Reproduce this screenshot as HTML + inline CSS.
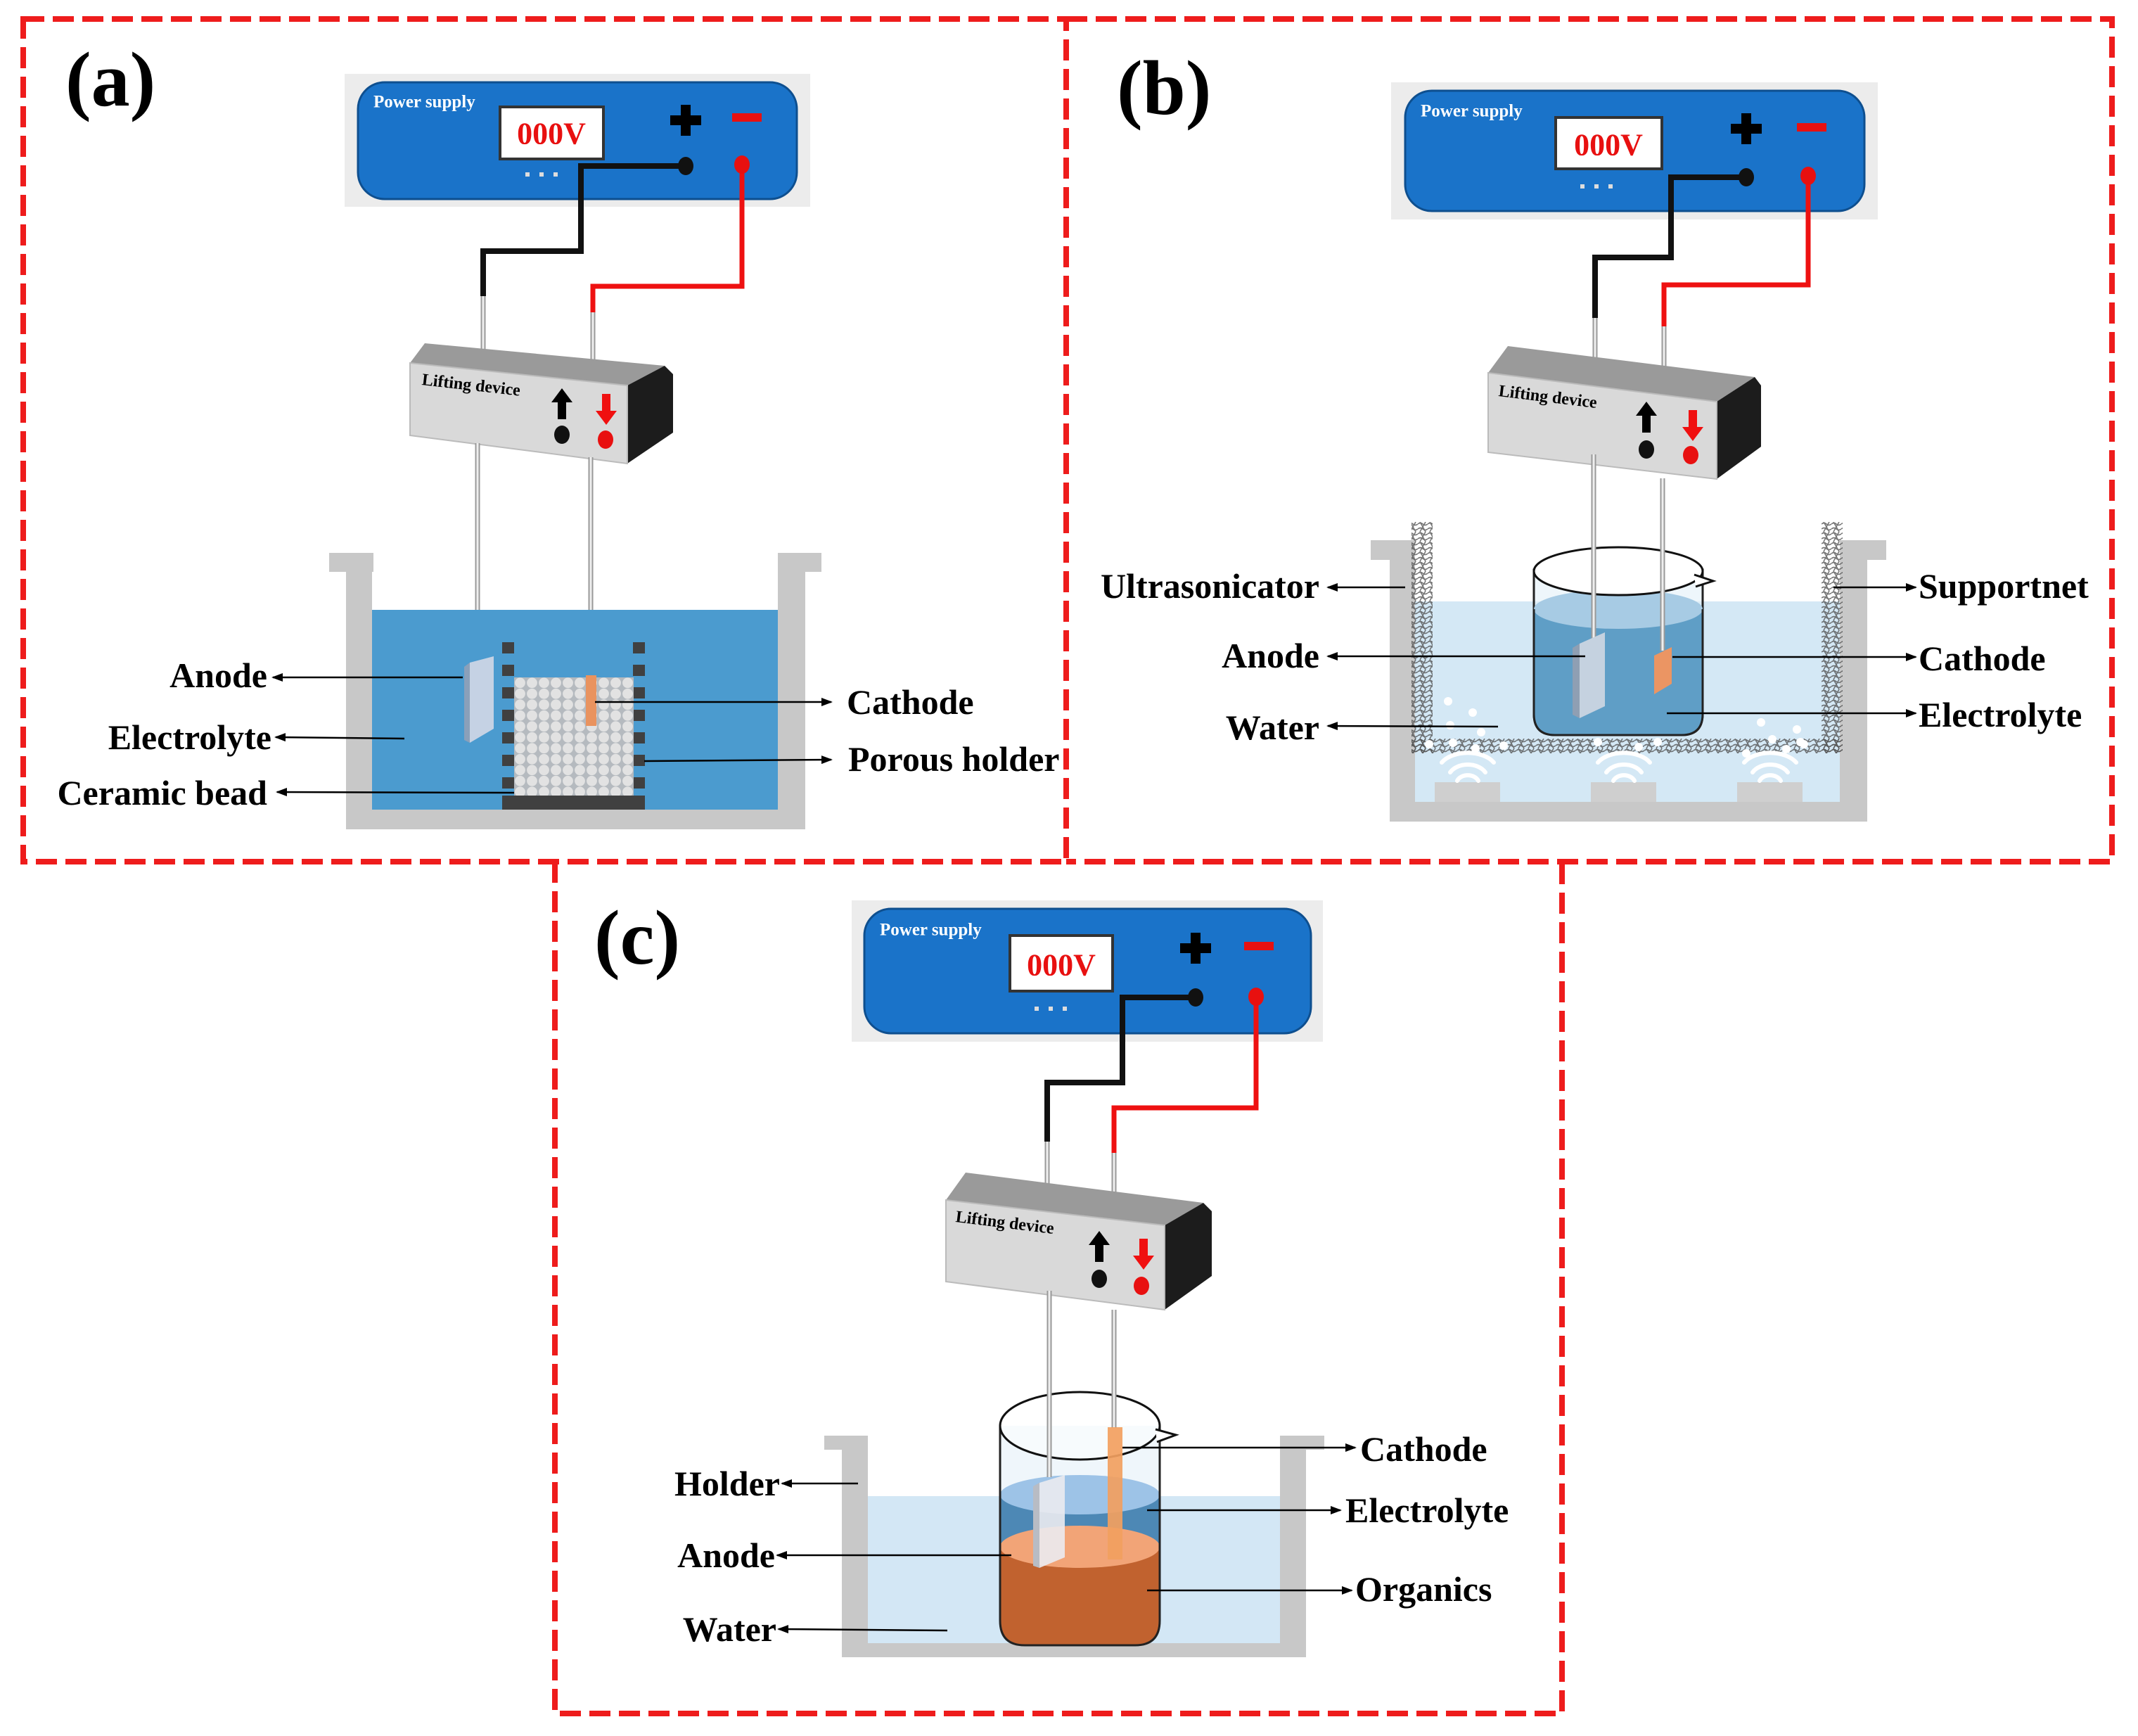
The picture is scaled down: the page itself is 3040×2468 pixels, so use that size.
<!DOCTYPE html>
<html><head><meta charset="utf-8">
<style>
html,body{margin:0;padding:0;background:#fff;}
svg{display:block;}
text{font-family:"Liberation Serif",serif;font-weight:bold;}
</style></head>
<body>
<svg width="3040" height="2468" viewBox="0 0 3040 2468" xmlns="http://www.w3.org/2000/svg">
<defs>
<marker id="ah" markerWidth="16" markerHeight="12" refX="14" refY="6" orient="auto" markerUnits="userSpaceOnUse">
<path d="M0,0 L16,6 L0,12 z" fill="#000"/>
</marker>
<pattern id="beads" x="731" y="963" width="17" height="15.5" patternUnits="userSpaceOnUse">
<rect width="17" height="15.5" fill="#b5babf"/>
<circle cx="8.5" cy="7.75" r="7.4" fill="#e2e2e2"/>
</pattern>
<pattern id="net" width="14" height="14" patternUnits="userSpaceOnUse">
<path d="M0,3 Q3.5,0 7,3 T14,3 M0,10 Q3.5,7 7,10 T14,10 M3,0 L11,14 M11,0 L3,14" fill="none" stroke="#555" stroke-width="1.6" opacity="0.8"/>
</pattern>
<g id="uparr"><polygon points="0,0 15,20 6,20 6,44 -6,44 -6,20 -15,20" fill="#000"/></g>
<g id="dnarr"><polygon points="0,44 15,24 6,24 6,0 -6,0 -6,24 -15,24" fill="#f01010"/></g>
</defs>

<!-- borders -->
<g fill="none" stroke="#ee1c1c" stroke-width="8" stroke-dasharray="30 12">
<path d="M33 27 H1516 V1225 H33 Z"/>
<path d="M1516 27 H3003 V1225 H1516"/>
<path d="M789 1225 V2436 H2221 V1225"/>
</g>

<!-- ============ PANEL A ============ -->
<text x="93" y="150" font-size="110">(a)</text>

<rect x="490" y="105" width="662" height="189" fill="#ececec"/>
<rect x="509" y="117" width="624" height="166" rx="38" fill="#1a73c9" stroke="#0e4f8f" stroke-width="3"/>
<text x="531" y="145" font-size="25" fill="#fff" dominant-baseline="central">Power supply</text>
<rect x="711" y="152" width="147" height="74" fill="#fff" stroke="#333" stroke-width="4"/>
<text x="784" y="190" font-size="44" fill="#e81010" text-anchor="middle" dominant-baseline="central">000V</text>
<rect x="747" y="245" width="6" height="6" fill="#ddd"/><rect x="767" y="245" width="6" height="6" fill="#ddd"/><rect x="787" y="245" width="6" height="6" fill="#ddd"/>
<rect x="953" y="164" width="44" height="14" fill="#000"/><rect x="968" y="149" width="14" height="44" fill="#000"/>
<rect x="1041" y="161" width="42" height="12" fill="#e81010"/>
<path d="M975 236 H826 V357 H687 V421" fill="none" stroke="#111" stroke-width="8"/>
<path d="M1055 234 V407 H843 V444" fill="none" stroke="#ee1111" stroke-width="7"/>
<ellipse cx="975" cy="236" rx="11" ry="13" fill="#111"/>
<ellipse cx="1055" cy="234" rx="11" ry="13" fill="#e81010"/>
<line x1="687" y1="421" x2="687" y2="500" stroke="#999" stroke-width="7"/><line x1="687" y1="421" x2="687" y2="500" stroke="#eee" stroke-width="3"/>
<line x1="843" y1="444" x2="843" y2="525" stroke="#999" stroke-width="7"/><line x1="843" y1="444" x2="843" y2="525" stroke="#eee" stroke-width="3"/>
<polygon points="583,516 604,488 945,520 892,548" fill="#9a9a9a"/>
<polygon points="892,548 945,520 957,532 957,615 892,659" fill="#1c1c1c"/>
<polygon points="583,516 892,548 892,659 583,619" fill="#d9d9d9" stroke="#bbb" stroke-width="2"/>
<text x="600" y="540" font-size="24" transform="rotate(6.4 600 540)" dominant-baseline="central">Lifting device</text>
<use href="#uparr" transform="translate(799,552)"/>
<ellipse cx="799" cy="618" rx="11" ry="13" fill="#111"/>
<use href="#dnarr" transform="translate(862,560)"/>
<ellipse cx="861" cy="625" rx="11" ry="13" fill="#e81010"/>
<line x1="679" y1="630" x2="679" y2="940" stroke="#999" stroke-width="7"/><line x1="679" y1="630" x2="679" y2="940" stroke="#eee" stroke-width="3"/>
<line x1="840" y1="650" x2="840" y2="964" stroke="#999" stroke-width="7"/><line x1="840" y1="650" x2="840" y2="964" stroke="#eee" stroke-width="3"/>
<rect x="468" y="786" width="63" height="27" fill="#c8c8c8"/>
<rect x="492" y="786" width="37" height="393" fill="#c8c8c8"/>
<rect x="492" y="1151" width="653" height="28" fill="#c8c8c8"/>
<rect x="1106" y="786" width="39" height="393" fill="#c8c8c8"/>
<rect x="1106" y="786" width="62" height="27" fill="#c8c8c8"/>
<rect x="529" y="867" width="577" height="284" fill="#4b9bcf"/>
<g fill="#404040">
<rect x="714" y="913" width="17" height="16"/><rect x="714" y="945" width="17" height="16"/><rect x="714" y="977" width="17" height="16"/><rect x="714" y="1009" width="17" height="16"/><rect x="714" y="1041" width="17" height="16"/><rect x="714" y="1073" width="17" height="16"/><rect x="714" y="1105" width="17" height="16"/>
<rect x="900" y="913" width="17" height="16"/><rect x="900" y="945" width="17" height="16"/><rect x="900" y="977" width="17" height="16"/><rect x="900" y="1009" width="17" height="16"/><rect x="900" y="1041" width="17" height="16"/><rect x="900" y="1073" width="17" height="16"/><rect x="900" y="1105" width="17" height="16"/>
<rect x="714" y="1131" width="203" height="20"/>
</g>
<rect x="731" y="963" width="170" height="168" fill="url(#beads)"/>
<polygon points="668,942 702,933 702,1036 668,1056" fill="#c5d2e4"/>
<polygon points="660,948 668,942 668,1056 660,1052" fill="#8aa0ba"/>
<rect x="833" y="960" width="15" height="72" fill="#e9935f"/>
<g stroke="#000" stroke-width="2.5" marker-end="url(#ah)">
<line x1="658" y1="963" x2="388" y2="963"/>
<line x1="575" y1="1050" x2="392" y2="1048"/>
<line x1="731" y1="1127" x2="394" y2="1126"/>
<line x1="846" y1="998" x2="1182" y2="998"/>
<line x1="916" y1="1082" x2="1182" y2="1080"/>
</g>
<g font-size="50" dominant-baseline="central">
<text x="380" y="960" text-anchor="end">Anode</text>
<text x="386" y="1048" text-anchor="end">Electrolyte</text>
<text x="380" y="1127" text-anchor="end">Ceramic bead</text>
<text x="1204" y="998">Cathode</text>
<text x="1206" y="1079">Porous holder</text>
</g>

<!-- ============ PANEL B ============ -->
<text x="1588" y="162" font-size="110">(b)</text>

<rect x="1978" y="117" width="692" height="195" fill="#ececec"/>
<rect x="1998" y="129" width="653" height="171" rx="38" fill="#1a73c9" stroke="#0e4f8f" stroke-width="3"/>
<text x="2020" y="158" font-size="25" fill="#fff" dominant-baseline="central">Power supply</text>
<rect x="2212" y="167" width="151" height="73" fill="#fff" stroke="#333" stroke-width="4"/>
<text x="2287" y="206" font-size="44" fill="#e81010" text-anchor="middle" dominant-baseline="central">000V</text>
<rect x="2247" y="262" width="6" height="6" fill="#ddd"/><rect x="2267" y="262" width="6" height="6" fill="#ddd"/><rect x="2287" y="262" width="6" height="6" fill="#ddd"/>
<rect x="2461" y="176" width="44" height="14" fill="#000"/><rect x="2476" y="161" width="14" height="44" fill="#000"/>
<rect x="2555" y="175" width="42" height="12" fill="#e81010"/>
<path d="M2483 252 H2376 V366 H2268 V452" fill="none" stroke="#111" stroke-width="8"/>
<path d="M2571 250 V405 H2366 V464" fill="none" stroke="#ee1111" stroke-width="7"/>
<ellipse cx="2483" cy="252" rx="11" ry="13" fill="#111"/>
<ellipse cx="2571" cy="250" rx="11" ry="13" fill="#e81010"/>
<line x1="2268" y1="452" x2="2268" y2="530" stroke="#999" stroke-width="7"/><line x1="2268" y1="452" x2="2268" y2="530" stroke="#eee" stroke-width="3"/>
<line x1="2366" y1="464" x2="2366" y2="545" stroke="#999" stroke-width="7"/><line x1="2366" y1="464" x2="2366" y2="545" stroke="#eee" stroke-width="3"/>
<polygon points="2116,530 2144,492 2495,536 2441,571" fill="#9a9a9a"/>
<polygon points="2441,571 2495,536 2504,548 2504,635 2441,681" fill="#1c1c1c"/>
<polygon points="2116,530 2441,571 2441,681 2116,643" fill="#d9d9d9" stroke="#bbb" stroke-width="2"/>
<text x="2131" y="556" font-size="24" transform="rotate(7 2131 556)" dominant-baseline="central">Lifting device</text>
<use href="#uparr" transform="translate(2341,571)"/>
<ellipse cx="2341" cy="639" rx="11" ry="13" fill="#111"/>
<use href="#dnarr" transform="translate(2407,583)"/>
<ellipse cx="2404" cy="647" rx="11" ry="13" fill="#e81010"/>
<rect x="1949" y="768" width="63" height="28" fill="#c8c8c8"/>
<rect x="1976" y="768" width="36" height="400" fill="#c8c8c8"/>
<rect x="1976" y="1140" width="679" height="28" fill="#c8c8c8"/>
<rect x="2616" y="768" width="39" height="400" fill="#c8c8c8"/>
<rect x="2616" y="768" width="66" height="28" fill="#c8c8c8"/>
<rect x="2012" y="855" width="604" height="285" fill="#d4e8f5"/>
<rect x="2007" y="742" width="30" height="329" fill="url(#net)"/>
<rect x="2590" y="742" width="30" height="329" fill="url(#net)"/>
<rect x="2007" y="1050" width="613" height="21" fill="url(#net)"/>
<g fill="#cfcfcf">
<rect x="2040" y="1112" width="93" height="28"/><rect x="2262" y="1112" width="93" height="28"/><rect x="2470" y="1112" width="93" height="28"/>
</g>
<g fill="none" stroke="#fff" stroke-width="6" stroke-linecap="round">
<path d="M2072 1110 A16 12 0 0 1 2102 1110 M2062 1098 A28 20 0 0 1 2112 1098 M2050 1084 A42 26 0 0 1 2124 1084"/>
<path d="M2294 1110 A16 12 0 0 1 2324 1110 M2284 1098 A28 20 0 0 1 2334 1098 M2272 1084 A42 26 0 0 1 2346 1084"/>
<path d="M2502 1110 A16 12 0 0 1 2532 1110 M2492 1098 A28 20 0 0 1 2542 1098 M2480 1084 A42 26 0 0 1 2554 1084"/>
</g>
<g fill="#fff">
<circle cx="2059" cy="997" r="6"/><circle cx="2094" cy="1013" r="6"/><circle cx="2062" cy="1031" r="6"/><circle cx="2106" cy="1041" r="6"/><circle cx="2032" cy="1058" r="6"/><circle cx="2066" cy="1056" r="6"/><circle cx="2098" cy="1064" r="6"/><circle cx="2138" cy="1060" r="6"/>
<circle cx="2272" cy="1055" r="6"/><circle cx="2330" cy="1062" r="6"/><circle cx="2357" cy="1055" r="6"/>
<circle cx="2504" cy="1027" r="6"/><circle cx="2555" cy="1037" r="6"/><circle cx="2483" cy="1071" r="6"/><circle cx="2520" cy="1051" r="6"/><circle cx="2560" cy="1055" r="6"/><circle cx="2540" cy="1065" r="6"/><circle cx="2565" cy="1058" r="6"/>
</g>
<path d="M2181 810 V1015 Q2181 1045 2211 1045 H2391 Q2421 1045 2421 1015 V810 Z" fill="#e2f0f9" fill-opacity="0.6" stroke="#222" stroke-width="3"/>
<path d="M2181 866 V1015 Q2181 1045 2211 1045 H2391 Q2421 1045 2421 1015 V866 Z" fill="#5f9ec6"/>
<ellipse cx="2301" cy="866" rx="120" ry="28" fill="#a7cbe4"/>
<path d="M2181 866 V1015 Q2181 1045 2211 1045 H2391 Q2421 1045 2421 1015 V866" fill="none" stroke="#222" stroke-width="3"/>
<ellipse cx="2301" cy="812" rx="120" ry="34" fill="#fff" stroke="#111" stroke-width="3"/>
<path d="M2409 817 L2436 826 L2411 834" fill="#fff" stroke="#111" stroke-width="3"/>
<line x1="2266" y1="646" x2="2266" y2="912" stroke="#999" stroke-width="7"/><line x1="2266" y1="646" x2="2266" y2="912" stroke="#eee" stroke-width="3"/>
<line x1="2364" y1="680" x2="2364" y2="925" stroke="#999" stroke-width="7"/><line x1="2364" y1="680" x2="2364" y2="925" stroke="#eee" stroke-width="3"/>
<polygon points="2246,915 2282,899 2282,1004 2246,1021" fill="#c5d2e0"/>
<polygon points="2236,921 2246,915 2246,1021 2236,1016" fill="#8f9fb3"/>
<polygon points="2352,932 2377,920 2377,972 2352,987" fill="#eb9563"/>
<g stroke="#000" stroke-width="2.5" marker-end="url(#ah)">
<line x1="1998" y1="835" x2="1888" y2="835"/>
<line x1="2254" y1="933" x2="1888" y2="933"/>
<line x1="2130" y1="1033" x2="1888" y2="1032"/>
<line x1="2607" y1="835" x2="2724" y2="835"/>
<line x1="2378" y1="934" x2="2724" y2="934"/>
<line x1="2370" y1="1014" x2="2724" y2="1014"/>
</g>
<g font-size="50" dominant-baseline="central">
<text x="1876" y="833" text-anchor="end">Ultrasonicator</text>
<text x="1876" y="932" text-anchor="end">Anode</text>
<text x="1876" y="1034" text-anchor="end">Water</text>
<text x="2728" y="833">Supportnet</text>
<text x="2728" y="936">Cathode</text>
<text x="2728" y="1016">Electrolyte</text>
</g>

<!-- ============ PANEL C ============ -->
<text x="845" y="1370" font-size="110">(c)</text>

<rect x="1211" y="1280" width="670" height="201" fill="#ececec"/>
<rect x="1229" y="1292" width="635" height="177" rx="38" fill="#1a73c9" stroke="#0e4f8f" stroke-width="3"/>
<text x="1251" y="1322" font-size="25" fill="#fff" dominant-baseline="central">Power supply</text>
<rect x="1436" y="1330" width="146" height="79" fill="#fff" stroke="#333" stroke-width="4"/>
<text x="1509" y="1372" font-size="44" fill="#e81010" text-anchor="middle" dominant-baseline="central">000V</text>
<rect x="1471" y="1431" width="6" height="6" fill="#ddd"/><rect x="1491" y="1431" width="6" height="6" fill="#ddd"/><rect x="1511" y="1431" width="6" height="6" fill="#ddd"/>
<rect x="1678" y="1341" width="44" height="14" fill="#000"/><rect x="1693" y="1326" width="14" height="44" fill="#000"/>
<rect x="1769" y="1339" width="42" height="12" fill="#e81010"/>
<path d="M1700 1418 H1596 V1539 H1489 V1623" fill="none" stroke="#111" stroke-width="8"/>
<path d="M1786 1417 V1575 H1584 V1639" fill="none" stroke="#ee1111" stroke-width="7"/>
<ellipse cx="1700" cy="1418" rx="11" ry="13" fill="#111"/>
<ellipse cx="1786" cy="1417" rx="11" ry="13" fill="#e81010"/>
<line x1="1489" y1="1623" x2="1489" y2="1702" stroke="#999" stroke-width="7"/><line x1="1489" y1="1623" x2="1489" y2="1702" stroke="#eee" stroke-width="3"/>
<line x1="1584" y1="1639" x2="1584" y2="1718" stroke="#999" stroke-width="7"/><line x1="1584" y1="1639" x2="1584" y2="1718" stroke="#eee" stroke-width="3"/>
<polygon points="1345,1706 1373,1667 1711,1710 1656,1742" fill="#9a9a9a"/>
<polygon points="1656,1742 1711,1710 1723,1722 1723,1814 1656,1862" fill="#1c1c1c"/>
<polygon points="1345,1706 1656,1742 1656,1862 1345,1822" fill="#d9d9d9" stroke="#bbb" stroke-width="2"/>
<text x="1359" y="1730" font-size="24" transform="rotate(7 1359 1730)" dominant-baseline="central">Lifting device</text>
<use href="#uparr" transform="translate(1563,1750)"/>
<ellipse cx="1563" cy="1818" rx="11" ry="13" fill="#111"/>
<use href="#dnarr" transform="translate(1626,1761)"/>
<ellipse cx="1623" cy="1828" rx="11" ry="13" fill="#e81010"/>
<rect x="1172" y="2041" width="62" height="20" fill="#c8c8c8"/>
<rect x="1197" y="2041" width="37" height="315" fill="#c8c8c8"/>
<rect x="1197" y="2336" width="660" height="20" fill="#c8c8c8"/>
<rect x="1820" y="2041" width="37" height="315" fill="#c8c8c8"/>
<rect x="1820" y="2041" width="63" height="20" fill="#c8c8c8"/>
<rect x="1234" y="2127" width="586" height="209" fill="#d3e7f5"/>
<path d="M1422 2027 V2304 Q1422 2339 1457 2339 H1614 Q1649 2339 1649 2304 V2027 Z" fill="#e4f0f8" fill-opacity="0.6"/>
<path d="M1422 2125 V2304 Q1422 2339 1457 2339 H1614 Q1649 2339 1649 2304 V2125 Z" fill="#4d88b5"/>
<ellipse cx="1535.5" cy="2125" rx="113.5" ry="28" fill="#9dc3e7"/>
<path d="M1422 2199 V2304 Q1422 2339 1457 2339 H1614 Q1649 2339 1649 2304 V2199 Z" fill="#c1622f"/>
<ellipse cx="1535.5" cy="2199" rx="113.5" ry="30" fill="#f2a477"/>
<path d="M1422 2027 V2304 Q1422 2339 1457 2339 H1614 Q1649 2339 1649 2304 V2027" fill="none" stroke="#222" stroke-width="3"/>
<ellipse cx="1535.5" cy="2027" rx="113.5" ry="48" fill="#fff" fill-opacity="0.5" stroke="#111" stroke-width="3"/>
<path d="M1643 2032 L1672 2040 L1645 2050" fill="#fff" stroke="#111" stroke-width="3"/>
<line x1="1492" y1="1835" x2="1492" y2="2100" stroke="#999" stroke-width="7"/><line x1="1492" y1="1835" x2="1492" y2="2100" stroke="#eee" stroke-width="3"/>
<line x1="1584" y1="1862" x2="1584" y2="2030" stroke="#999" stroke-width="7"/><line x1="1584" y1="1862" x2="1584" y2="2030" stroke="#eee" stroke-width="3"/>
<polygon points="1478,2108 1514,2097 1514,2214 1478,2229" fill="#ebebf0" fill-opacity="0.9"/>
<polygon points="1469,2113 1478,2108 1478,2229 1469,2226" fill="#b8bcc4"/>
<rect x="1575" y="2029" width="21" height="188" fill="#f2a060" fill-opacity="0.92"/>
<g stroke="#000" stroke-width="2.5" marker-end="url(#ah)">
<line x1="1596" y1="2058" x2="1927" y2="2058"/>
<line x1="1631" y1="2147" x2="1906" y2="2147"/>
<line x1="1631" y1="2261" x2="1922" y2="2261"/>
<line x1="1220" y1="2109" x2="1112" y2="2109"/>
<line x1="1438" y1="2211" x2="1105" y2="2211"/>
<line x1="1347" y1="2318" x2="1107" y2="2316"/>
</g>
<g font-size="50" dominant-baseline="central">
<text x="1934" y="2060">Cathode</text>
<text x="1913" y="2147">Electrolyte</text>
<text x="1927" y="2259">Organics</text>
<text x="1109" y="2109" text-anchor="end">Holder</text>
<text x="1102" y="2211" text-anchor="end">Anode</text>
<text x="1104" y="2316" text-anchor="end">Water</text>
</g>
</svg>
</body></html>
